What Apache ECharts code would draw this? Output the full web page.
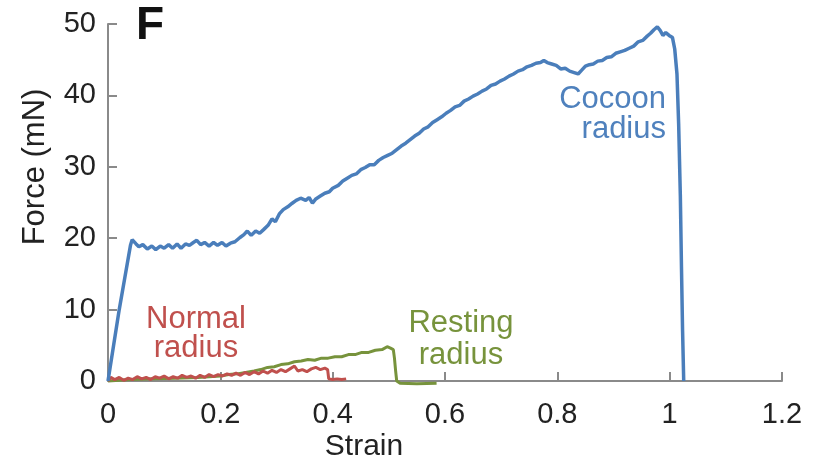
<!DOCTYPE html>
<html>
<head>
<meta charset="utf-8">
<script src="https://cdn.jsdelivr.net/npm/echarts@6/dist/echarts.min.js"></script>
<style>
  html, body { margin: 0; padding: 0; background: #fff; }
  #chart { width: 814px; height: 467px; }
</style>
</head>
<body>
<div id="chart"></div>
<script>
// tick values
const xTicks = [0, 0.2, 0.4, 0.6, 0.8, 1, 1.2]
const yTicks = [0, 10, 20, 30, 40, 50]

// cocoon radius: [strain, force mN]
const cocoon = [
  [0, 0], [0.01, 5], [0.02, 10], [0.03, 14.5], [0.04, 19], [0.043, 19.8], [0.05, 19.2],
  [0.055, 18.8], [0.062, 19.1], [0.07, 18.5], [0.078, 18.9], [0.085, 18.4], [0.093, 18.9],
  [0.1, 18.6], [0.108, 19.1], [0.115, 18.6], [0.123, 19.2], [0.13, 18.6], [0.138, 19.2],
  [0.145, 19.0], [0.152, 19.4], [0.158, 19.7], [0.165, 19.1], [0.172, 19.4], [0.18, 18.9],
  [0.188, 19.4], [0.195, 19.0], [0.203, 19.4], [0.21, 18.9], [0.218, 19.3], [0.226, 19.5],
  [0.235, 20.1], [0.242, 20.5], [0.248, 21.0], [0.255, 20.4], [0.263, 21.0], [0.27, 20.7],
  [0.277, 21.2], [0.285, 21.8], [0.292, 22.7], [0.298, 22.3], [0.305, 23.4], [0.312, 24.0],
  [0.32, 24.4], [0.328, 24.9], [0.335, 25.3], [0.343, 25.6], [0.352, 25.3], [0.358, 25.7],
  [0.364, 24.9], [0.37, 25.5], [0.378, 25.9], [0.386, 26.3], [0.394, 26.5], [0.4, 27.0],
  [0.41, 27.4], [0.418, 28.0], [0.426, 28.4], [0.434, 28.8], [0.442, 29.0], [0.45, 29.6],
  [0.458, 29.9], [0.466, 30.3], [0.474, 30.3], [0.482, 30.9], [0.49, 31.3], [0.498, 31.6],
  [0.506, 31.9], [0.514, 32.4], [0.522, 32.9], [0.53, 33.3], [0.538, 33.8], [0.546, 34.3],
  [0.554, 34.7], [0.562, 35.3], [0.57, 35.6], [0.578, 36.2], [0.586, 36.6], [0.594, 37.0],
  [0.602, 37.5], [0.61, 37.9], [0.618, 38.4], [0.626, 38.6], [0.634, 39.2], [0.642, 39.5],
  [0.65, 39.9], [0.658, 40.2], [0.666, 40.6], [0.674, 40.9], [0.682, 41.4], [0.69, 41.6],
  [0.698, 42.0], [0.706, 42.3], [0.714, 42.7], [0.722, 43.0], [0.73, 43.4], [0.738, 43.6],
  [0.746, 44.0], [0.754, 44.2], [0.762, 44.5], [0.77, 44.6], [0.776, 44.9], [0.782, 44.6],
  [0.79, 44.4], [0.798, 44.2], [0.806, 43.7], [0.814, 43.8], [0.822, 43.4], [0.83, 43.2],
  [0.837, 43.0], [0.843, 43.5], [0.85, 44.1], [0.857, 44.3], [0.864, 44.4], [0.872, 44.8],
  [0.88, 44.9], [0.888, 45.3], [0.896, 45.4], [0.904, 45.9], [0.912, 46.1], [0.92, 46.3],
  [0.928, 46.6], [0.936, 46.9], [0.944, 47.5], [0.952, 47.7], [0.96, 48.3], [0.966, 48.7],
  [0.972, 49.2], [0.978, 49.6], [0.983, 49.1], [0.988, 48.4], [0.993, 48.8], [0.999, 48.4],
  [1.005, 48.1], [1.009, 46.5], [1.013, 43.0], [1.016, 36.0], [1.019, 26.0], [1.021, 16.0],
  [1.023, 7.0], [1.025, 0]
]

// normal radius
const normal = [
  [0, 0], [0.005, 0.5], [0.012, 0.2], [0.02, 0.5], [0.028, 0.1], [0.036, 0.4], [0.044, 0.2],
  [0.052, 0.6], [0.06, 0.3], [0.068, 0.5], [0.076, 0.2], [0.084, 0.6], [0.092, 0.4],
  [0.1, 0.7], [0.108, 0.3], [0.116, 0.6], [0.124, 0.4], [0.132, 0.8], [0.14, 0.5],
  [0.148, 0.7], [0.156, 0.4], [0.164, 0.8], [0.172, 0.5], [0.18, 0.9], [0.188, 0.6],
  [0.196, 0.9], [0.204, 0.7], [0.212, 1.0], [0.22, 0.8], [0.228, 1.1], [0.236, 0.8],
  [0.244, 1.2], [0.252, 0.9], [0.26, 1.3], [0.268, 1.0], [0.276, 1.4], [0.284, 1.1],
  [0.292, 1.5], [0.3, 1.2], [0.308, 1.6], [0.316, 1.3], [0.324, 1.7], [0.332, 2.1],
  [0.338, 1.4], [0.346, 1.6], [0.354, 1.3], [0.362, 1.7], [0.37, 1.9], [0.378, 1.6],
  [0.386, 1.8], [0.391, 1.6], [0.393, 0.3], [0.4, 0.2], [0.408, 0.3], [0.416, 0.2],
  [0.424, 0.3]
]

// resting radius
const resting = [
  [0, 0], [0.04, 0.2], [0.08, 0.3], [0.12, 0.4], [0.16, 0.5], [0.2, 0.7], [0.215, 0.9],
  [0.23, 1.0], [0.245, 1.2], [0.26, 1.4], [0.272, 1.6], [0.284, 1.9], [0.296, 2.0],
  [0.308, 2.3], [0.32, 2.4], [0.332, 2.7], [0.344, 2.8], [0.356, 3.0], [0.368, 2.9],
  [0.38, 3.2], [0.392, 3.2], [0.404, 3.4], [0.416, 3.4], [0.428, 3.7], [0.44, 3.7],
  [0.452, 4.0], [0.464, 4.0], [0.476, 4.3], [0.488, 4.4], [0.497, 4.8], [0.503, 4.6],
  [0.508, 4.4], [0.51, 3.2], [0.512, 1.5], [0.514, 0], [0.52, -0.3], [0.55, -0.4],
  [0.585, -0.3]
]

const axisGrey = '#8a8a8a'
const textDark = '#222'

const chart = echarts.init(document.getElementById('chart'))

const axisCommon = {
  type: 'value',
  axisLine: { show: true, lineStyle: { color: axisGrey, width: 2 } },
  axisTick: { show: true, inside: true, length: 9, lineStyle: { color: axisGrey, width: 2 } },
  splitLine: { show: false },
  axisLabel: { color: textDark, fontSize: 29, fontFamily: 'Liberation Sans' }
}

chart.setOption({
  animation: false,
  backgroundColor: '#fff',
  grid: { left: 108, right: 32, top: 24, bottom: 86 },
  xAxis: Object.assign({}, axisCommon, {
    min: xTicks[0],
    max: xTicks[xTicks.length - 1],
    interval: 0.2,
    axisLabel: Object.assign({}, axisCommon.axisLabel, { margin: 19 })
  }),
  yAxis: Object.assign({}, axisCommon, {
    min: yTicks[0],
    max: yTicks[yTicks.length - 1],
    interval: 10,
    axisLabel: Object.assign({}, axisCommon.axisLabel, { margin: 12 })
  }),
  series: [
    {
      name: 'Normal radius', type: 'line', data: normal, showSymbol: false, clip: false,
      lineStyle: { color: '#c0504d', width: 3 }, z: 3
    },
    {
      name: 'Resting radius', type: 'line', data: resting, showSymbol: false, clip: false,
      lineStyle: { color: '#77933c', width: 3 }, z: 2
    },
    {
      name: 'Cocoon radius', type: 'line', data: cocoon, showSymbol: false, clip: false,
      lineStyle: { color: '#4a7ebb', width: 3.5 }, z: 4
    }
  ],
  graphic: [
    {
      type: 'text', left: 136, top: 3,
      style: { text: 'F', font: 'bold 46px Liberation Sans', fill: '#111' }
    },
    {
      type: 'text', x: 35, y: 167, rotation: Math.PI / 2,
      style: { text: 'Force (mN)', font: '31px Liberation Sans', fill: textDark, align: 'center', verticalAlign: 'middle' }
    },
    {
      type: 'text', x: 364, y: 447,
      style: { text: 'Strain', font: '30px Liberation Sans', fill: textDark, align: 'center', verticalAlign: 'middle' }
    },
    {
      type: 'text', x: 666, y: 114,
      style: { text: 'Cocoon\nradius', font: '31px Liberation Sans', lineHeight: 30, fill: '#4f81bd', align: 'right', verticalAlign: 'middle' }
    },
    {
      type: 'text', x: 196, y: 334,
      style: { text: 'Normal\nradius', font: '31px Liberation Sans', lineHeight: 29, fill: '#c0504d', align: 'center', verticalAlign: 'middle' }
    },
    {
      type: 'text', x: 461, y: 339,
      style: { text: 'Resting\nradius', font: '31px Liberation Sans', lineHeight: 32, fill: '#77933c', align: 'center', verticalAlign: 'middle' }
    }
  ]
})
</script>
</body>
</html>
